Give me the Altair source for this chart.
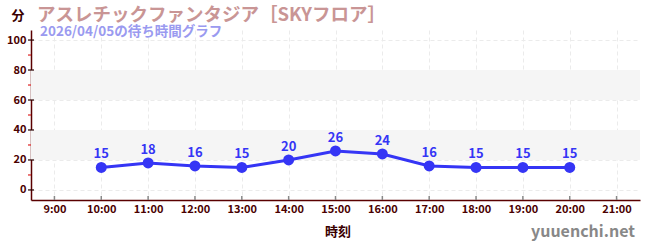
import altair as alt
import pandas as pd

hours = [10, 11, 12, 13, 14, 15, 16, 17, 18, 19, 20]
waits = [15, 18, 16, 15, 20, 26, 24, 16, 15, 15, 15]
x_ticks = [9, 10, 11, 12, 13, 14, 15, 16, 17, 18, 19, 20, 21]
y_ticks = [0, 20, 40, 60, 80, 100]
minor_ticks = [10, 30, 50, 70, 90]
bands_lo = [20, 60]
bands_hi = [40, 80]

FONT = "Noto Sans CJK JP"
W, H = 609, 170

df = pd.DataFrame({"hour": hours, "wait": waits})
bands = pd.DataFrame({"lo": bands_lo, "hi": bands_hi})
minors = pd.DataFrame({"v": minor_ticks})
majors = pd.DataFrame({"v": y_ticks})
xt_df = pd.DataFrame({"h": x_ticks})

xs = alt.Scale(domain=[8.5, 21.5], nice=False, zero=False)
ys = alt.Scale(domain=[-6.7, 106.7], nice=False, zero=False)

xax = alt.Axis(values=x_ticks, labelExpr="datum.value + ':00'", title=None,
               grid=True, gridDash=[4, 3], gridColor="#ebebeb",
               domainColor="#5a0000", domainWidth=1.5, ticks=False,
               labelColor="#4a0000", labelFont=FONT, labelFontSize=11,
               labelFontWeight="bold", labelPadding=3, labelOverlap=False)
yax = alt.Axis(values=y_ticks, title=None, grid=True, gridDash=[4, 3],
               gridColor="#ebebeb", domainColor="#5a0000", domainWidth=1.5,
               ticks=False, labelColor="#4a0000",
               labelFont=FONT, labelFontSize=11, labelFontWeight="bold",
               labelPadding=5, labelOverlap=False)

band = alt.Chart(bands).mark_rect(color="#f5f5f5").encode(
    x=alt.value(0), x2=alt.value(W),
    y=alt.Y("lo:Q", scale=ys, axis=yax), y2="hi:Q")

minor = alt.Chart(minors).mark_rule(color="#dd2222", strokeWidth=1.2).encode(
    x=alt.value(-3), x2=alt.value(0), y=alt.Y("v:Q", scale=ys, axis=yax))
major = alt.Chart(majors).mark_rule(color="#2a0000", strokeWidth=1.2).encode(
    x=alt.value(-3), x2=alt.value(3), y=alt.Y("v:Q", scale=ys, axis=yax))
xtick = alt.Chart(xt_df).mark_rule(color="#888888", strokeWidth=1.5).encode(
    x=alt.X("h:Q", scale=xs, axis=xax), y=alt.value(H - 4), y2=alt.value(H))

base = alt.Chart(df).encode(x=alt.X("hour:Q", scale=xs, axis=xax),
                            y=alt.Y("wait:Q", scale=ys, axis=yax))
line = base.mark_line(color="#3535f5", strokeWidth=3)
pts = base.mark_circle(color="#3535f5", size=120, opacity=1)
lbl = base.mark_text(color="#3535f5", dy=-13, font=FONT, fontSize=13,
                     fontWeight="bold").encode(text="wait:Q")

def txt(s, x, y, size, color, weight="bold", align="left"):
    return alt.Chart(pd.DataFrame({"t": [s]})).mark_text(
        font=FONT, fontSize=size, color=color, fontWeight=weight, align=align,
        baseline="middle").encode(x=alt.value(x), y=alt.value(y), text="t:N")

title = txt("アスレチックファンタジア［SKYフロア］", 6, -15, 18.5, "#c99595")
sub = txt("2026/04/05の待ち時間グラフ", 9, 2, 13.5, "#9a9af0")
unit = txt("分", -13, -14, 13, "#3a0000", align="center")
xt = txt("時刻", 307, H + 32, 13, "#3a0000", align="center")
wm = txt("yuuenchi.net", 604, H + 32, 16, "#888888", weight="bold", align="right")

chart = alt.layer(band, minor, major, xtick, line, pts, lbl, title, sub, unit, xt, wm).properties(
    width=W, height=H,
    autosize=alt.AutoSizeParams(type="none"),
    padding={"left": 31, "top": 30, "right": 10, "bottom": 50},
).configure_view(stroke=None).configure_axis(labelOverlap=False)

chart.save("out.html", embed_options={"renderer": "svg", "actions": False})
